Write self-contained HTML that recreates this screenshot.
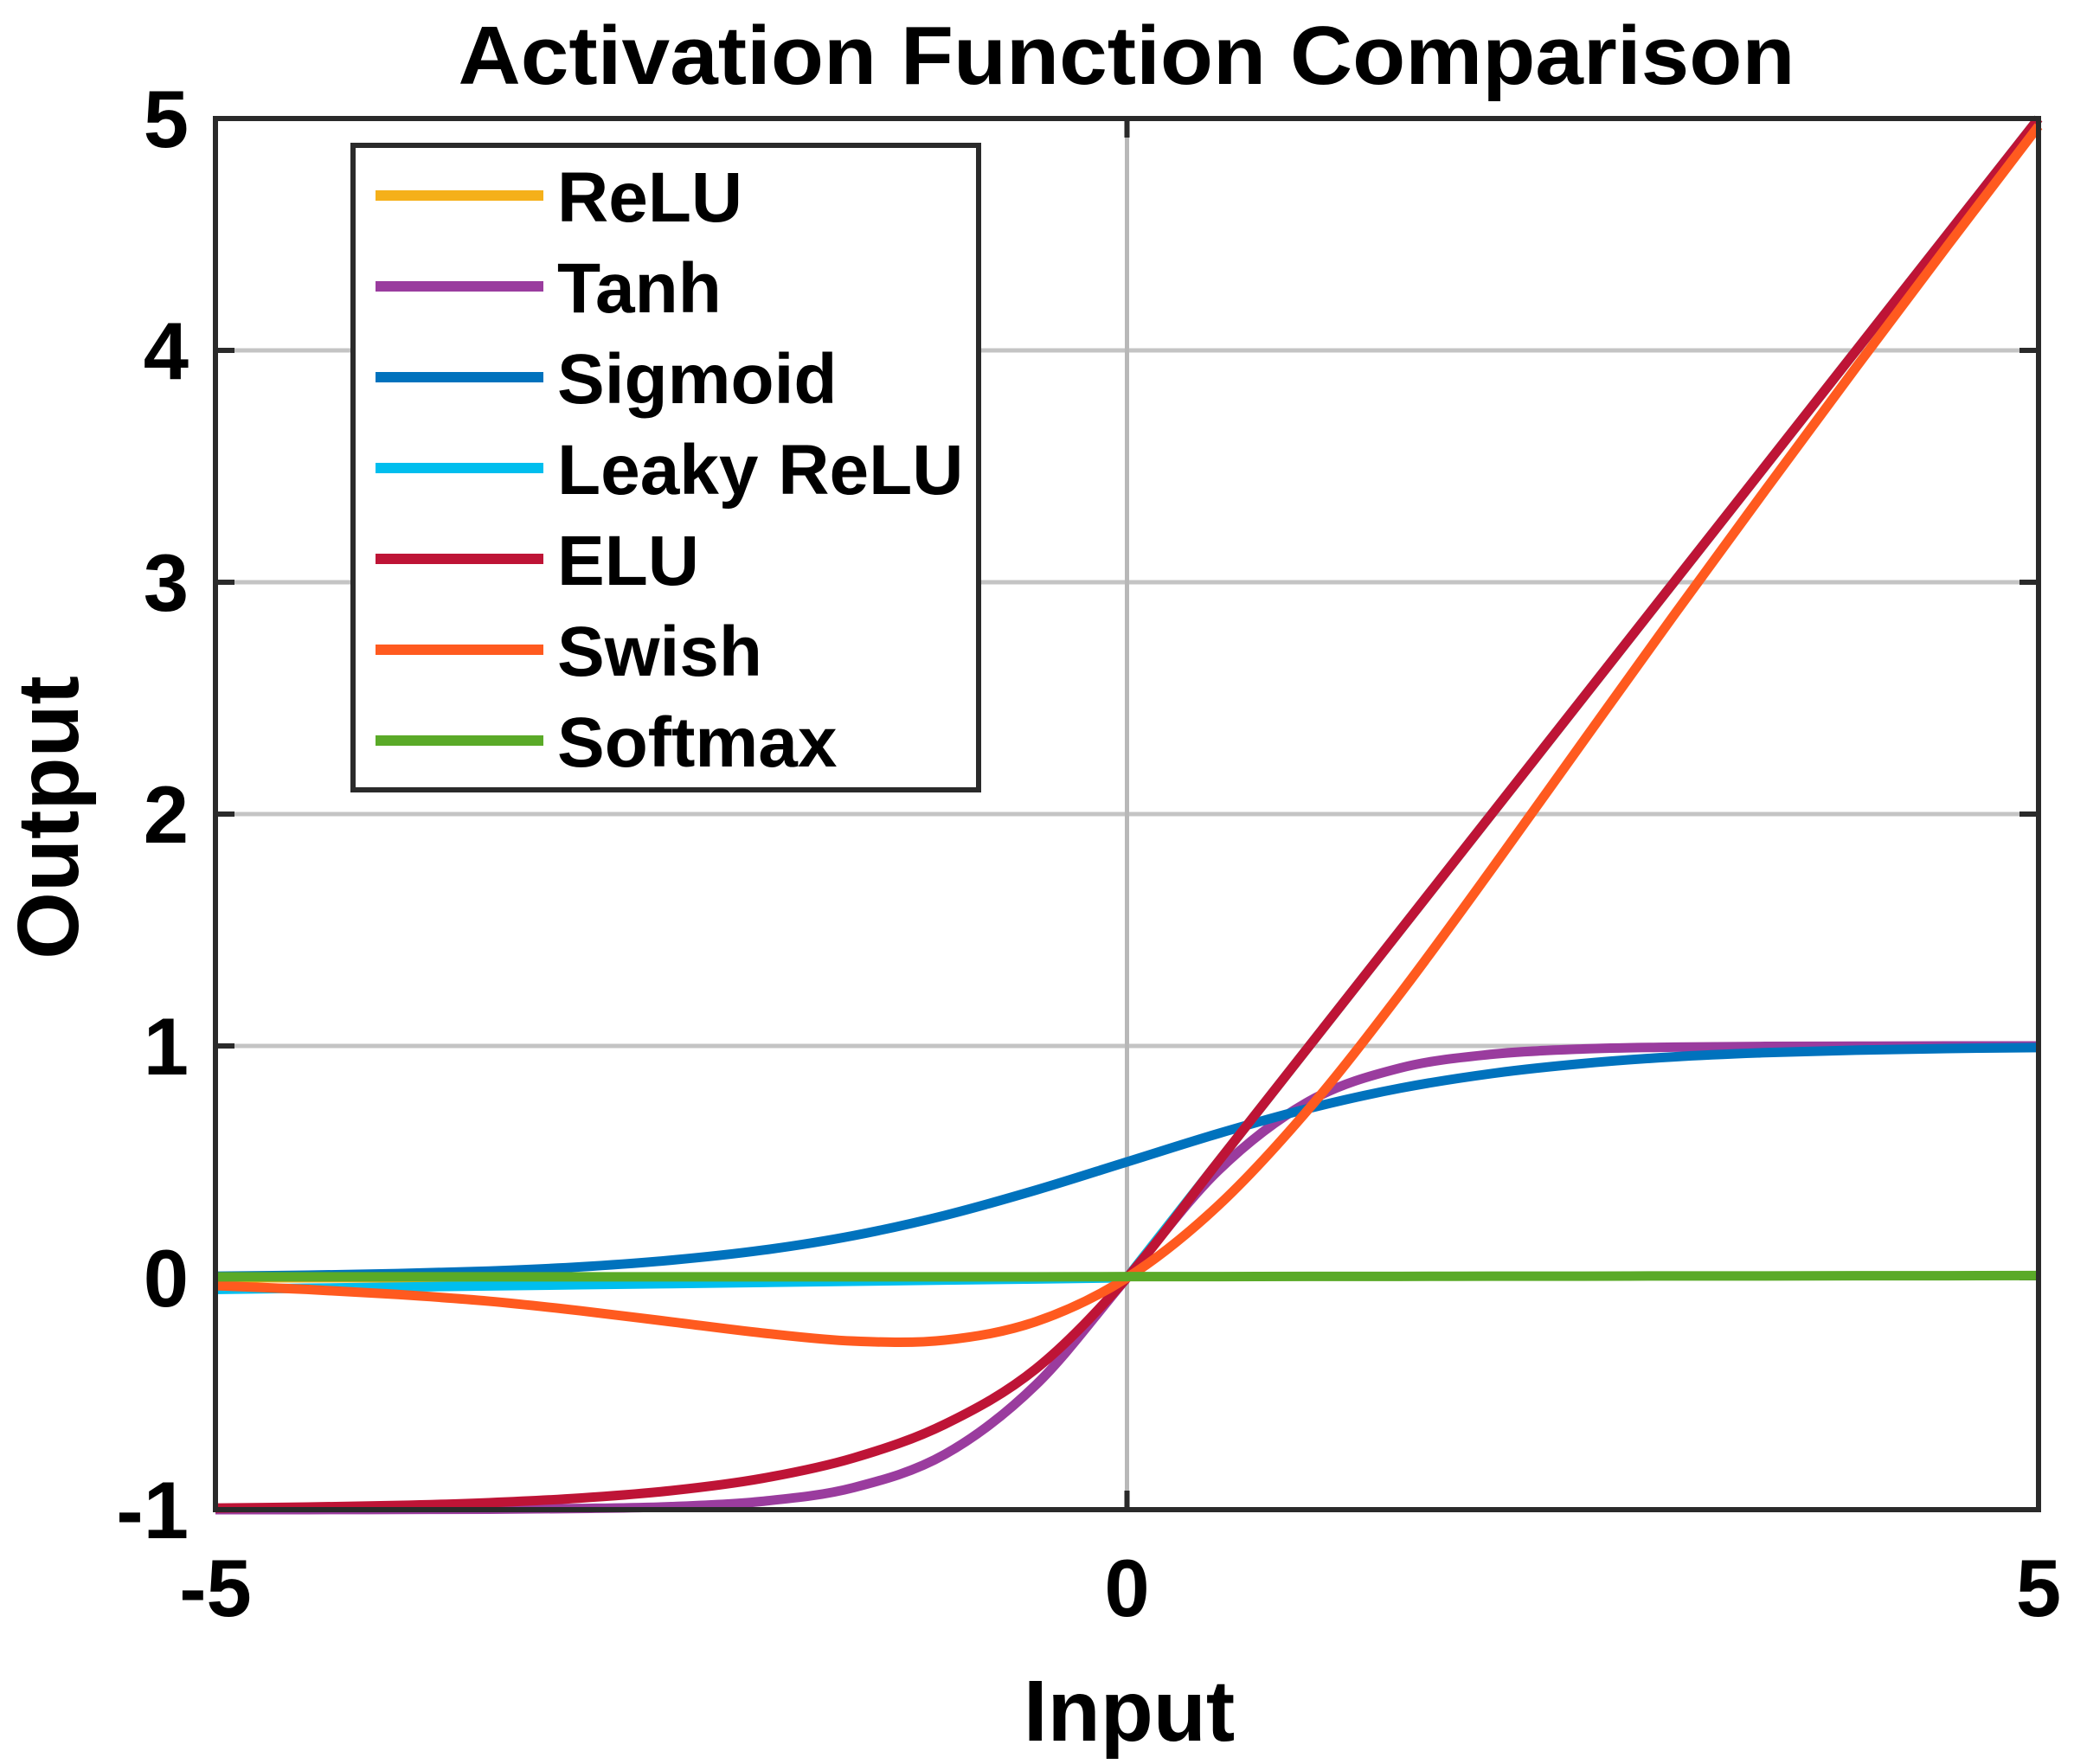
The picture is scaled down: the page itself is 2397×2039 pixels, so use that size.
<!DOCTYPE html>
<html><head><meta charset="utf-8"><style>
html,body{margin:0;padding:0;background:#fff;}
svg{display:block;font-family:"Liberation Sans",Arial,sans-serif;font-weight:bold;}
</style></head><body>
<svg id="chart" width="2397" height="2039" viewBox="0 0 2397 2039">
<text x="1302" y="97" font-size="96" text-anchor="middle" textLength="1545" lengthAdjust="spacingAndGlyphs">Activation Function Comparison</text>
<g id="grid"></g>
<g id="series"></g>
<rect x="249" y="137" width="2107" height="1608" fill="none" stroke="#2a2a2a" stroke-width="6"/>
<g id="ticks"></g>
<text x="1305" y="2012" font-size="100" text-anchor="middle">Input</text>
<text transform="translate(90,945) rotate(-90)" font-size="100" text-anchor="middle">Output</text>
<g id="legend"></g>
</svg>
<script>
const xs = [-5,-4.5,-4,-3.5,-3,-2.5,-2,-1.5,-1,-0.5,0,0.5,1,1.5,2,2.5,3,3.5,4,4.5,5];
const reluVals = [0,0,0,0,0,0,0,0,0,0,0,0.5,1,1.5,2,2.5,3,3.5,4,4.5,5];
const tanhVals = [-1,-1,-0.999,-0.998,-0.995,-0.987,-0.964,-0.905,-0.762,-0.462,0,0.462,0.762,0.905,0.964,0.987,0.995,0.998,0.999,1,1];
const sigmoidVals = [0.007,0.011,0.018,0.029,0.047,0.076,0.119,0.182,0.269,0.378,0.5,0.622,0.731,0.818,0.881,0.924,0.953,0.971,0.982,0.989,0.993];
const leakyVals = [-0.05,-0.045,-0.04,-0.035,-0.03,-0.025,-0.02,-0.015,-0.01,-0.005,0,0.5,1,1.5,2,2.5,3,3.5,4,4.5,5];
const eluVals = [-0.993,-0.989,-0.982,-0.97,-0.95,-0.918,-0.865,-0.777,-0.632,-0.393,0,0.5,1,1.5,2,2.5,3,3.5,4,4.5,5];
const swishVals = [-0.034,-0.05,-0.072,-0.101,-0.142,-0.19,-0.238,-0.273,-0.269,-0.189,0,0.311,0.731,1.227,1.762,2.311,2.858,3.396,3.928,4.451,4.967];
const softmaxVals = [0.004,0.004,0.004,0.004,0.004,0.004,0.004,0.004,0.004,0.004,0.005,0.005,0.006,0.006,0.007,0.007,0.008,0.008,0.009,0.009,0.01];
const seriesNames = ["ReLU","Tanh","Sigmoid","Leaky ReLU","ELU","Swish","Softmax"];
const yTicks = [-1,0,1,2,3,4,5];
const xTicks = [-5,0,5];
const xTickLabels = ["-5","0","5"];
const yTickLabels = ["-1","0","1","2","3","4","5"];

const NS="http://www.w3.org/2000/svg";
const X0=249,X1=2356,Y0=1745,Y1=137;
function sx(v){return X0+(v+5)/10*(X1-X0);}
function sy(v){return Y0-(v+1)/6*(Y0-Y1);}
function mk(tag,attrs,parent){const e=document.createElementNS(NS,tag);for(const k in attrs)e.setAttribute(k,attrs[k]);parent.appendChild(e);return e;}

const grid=document.getElementById('grid');
yTicks.forEach((t,i)=>{
  if(t>-1&&t<5){
    const g=mk('line',{x1:X0,x2:X1,y1:sy(t),y2:sy(t),stroke:'#c4c4c4','stroke-width':5},grid);
    
    
    const a=mk('line',{x1:X0,x2:X0+22,y1:sy(t),y2:sy(t),stroke:'#2a2a2a','stroke-width':6},grid);
    
    
    const b=mk('line',{x1:X1-22,x2:X1,y1:sy(t),y2:sy(t),stroke:'#2a2a2a','stroke-width':6},grid);
    
    
  }
});
xTicks.forEach(t=>{
  if(t>-5&&t<5){
    const g=mk('line',{x1:sx(t),x2:sx(t),y1:Y1,y2:Y0,stroke:'#b8b8b8','stroke-width':5},grid);
    
    
    const a=mk('line',{x1:sx(t),x2:sx(t),y1:Y0-22,y2:Y0,stroke:'#2a2a2a','stroke-width':6},grid);
    
    
    const b=mk('line',{x1:sx(t),x2:sx(t),y1:Y1,y2:Y1+22,stroke:'#2a2a2a','stroke-width':6},grid);
    
    
  }
});
const ticks=document.getElementById('ticks');
yTicks.forEach((t,i)=>{
  const e=mk('text',{x:218,y:sy(t)+33,'font-size':94,'text-anchor':'end'},ticks);
  e.textContent=yTickLabels[i];
  
  
});
xTicks.forEach((t,i)=>{
  const e=mk('text',{x:sx(t),y:1868,'font-size':94,'text-anchor':'middle'},ticks);
  e.textContent=xTickLabels[i];
  
  
});

function pathFor(vals,linear){
  const p=xs.map((x,i)=>[sx(x),sy(vals[i])]);
  let d='M'+p[0][0]+','+p[0][1];
  for(let i=0;i<p.length-1;i++){
    if(linear){d+=' L'+p[i+1][0]+','+p[i+1][1];continue;}
    const a=p[Math.max(0,i-1)],b=p[i],c=p[i+1],e=p[Math.min(p.length-1,i+2)];
    const c1=[b[0]+(c[0]-a[0])/6,b[1]+(c[1]-a[1])/6];
    const c2=[c[0]-(e[0]-b[0])/6,c[1]-(e[1]-b[1])/6];
    d+=' C'+c1[0]+','+c1[1]+' '+c2[0]+','+c2[1]+' '+c[0]+','+c[1];
  }
  return d;
}
const allVals=[reluVals,tanhVals,sigmoidVals,leakyVals,eluVals,swishVals,softmaxVals];
const linearFlags=[true,false,false,true,false,false,false];
const colors=['#F5B01A','#9A3C9E','#0072BD','#00BEEE','#BE1436','#FF5A1F','#5AAA28'];
const slugs=['relu','tanh','sigmoid','leaky-relu','elu','swish','softmax'];
const series=document.getElementById('series');
allVals.forEach((v,i)=>{
  const e=mk('path',{d:pathFor(v,linearFlags[i]),fill:'none',stroke:colors[i],'stroke-width':11,'stroke-linejoin':'round'},series);
  
  
});

const legend=document.getElementById('legend');
const lb=mk('rect',{x:408,y:168,width:723,height:745,fill:'#fff',stroke:'#2a2a2a','stroke-width':6},legend);


seriesNames.forEach((n,i)=>{
  const y=226+i*105;
  const l=mk('line',{x1:434,x2:628,y1:y,y2:y,stroke:colors[i],'stroke-width':12},legend);
  
  
  const t=mk('text',{x:644,y:y+30,'font-size':82},legend);
  t.textContent=n;
  
  
});
</script>
</body></html>
